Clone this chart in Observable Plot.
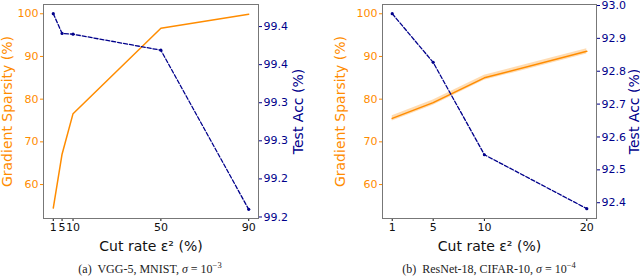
<!DOCTYPE html>
<html><head><meta charset="utf-8">
<script src="https://cdn.jsdelivr.net/npm/d3@7"></script>
<script src="https://cdn.jsdelivr.net/npm/@observablehq/plot@0.6"></script>
<style>
body{margin:0;background:#fff;}
#wrap{position:relative;width:640px;height:280px;overflow:hidden;background:#fff}
.layer{position:absolute;top:0;}
.cap{position:absolute;top:262px;font-family:"Liberation Serif","DejaVu Serif",serif;font-size:12px;color:#222;white-space:nowrap;transform:translateX(-50%)}
.cap sup{font-size:8.5px;vertical-align:5px;line-height:0}
</style></head><body><div id="wrap"></div><script>
// Panel (a): VGG-5, MNIST
const cutRateA = [1, 5, 10, 50, 90];
const sparsityA = [54.5, 67.1, 76.6, 96.6, 99.9];
const accA = [99.442, 99.416, 99.415, 99.394, 99.185];
const accTicksA = [99.175, 99.225, 99.275, 99.325, 99.375, 99.425];
const accTickLabelsA = ["99.2", "99.2", "99.3", "99.3", "99.4", "99.4"];
const captionA = '(a)&nbsp; VGG-5, MNIST, <i>σ</i> = 10<sup>−3</sup>';

// Panel (b): ResNet-18, CIFAR-10
const cutRateB = [1, 5, 10, 20];
const sparsityB = [75.5, 79.2, 85.0, 91.2];
const sparsityBandB = [0.6, 0.6, 0.6, 0.6];
const accB = [92.975, 92.827, 92.546, 92.382];
const accTicksB = [92.4, 92.5, 92.6, 92.7, 92.8, 92.9, 93.0];
const accTickLabelsB = ["92.4", "92.5", "92.6", "92.7", "92.8", "92.9", "93.0"];
const captionB = '(b)&nbsp; ResNet-18, CIFAR-10, <i>σ</i> = 10<sup>−4</sup>';

const sparsityTicks = [60, 70, 80, 90, 100];
const sparsityDomain = [52.05, 102.17];

const ORANGE = "#ff8c00", NAVY = "#00008b";
const W = 320, H = 252, MT = 4, MB = 34;
const wrap = document.getElementById("wrap");

function panel(cfg) {
  const base = {
    width: W, height: H, marginLeft: cfg.mL, marginRight: cfg.mR, marginTop: MT, marginBottom: MB,
    style: {background: "transparent", overflow: "visible", fontFamily: "DejaVu Sans, sans-serif", fontSize: "11px"}
  };
  const spData = cfg.cut.map((c, i) => ({c, v: cfg.sp[i], lo: cfg.band ? cfg.sp[i] - cfg.band[i] : null, hi: cfg.band ? cfg.sp[i] + cfg.band[i] : null}));
  const accData = cfg.cut.map((c, i) => ({c, v: cfg.acc[i]}));
  const p1 = Plot.plot({
    ...base,
    x: {domain: cfg.xDomain},
    y: {domain: sparsityDomain},
    marks: [
      cfg.band ? Plot.areaY(spData, {x: "c", y1: "lo", y2: "hi", fill: ORANGE, fillOpacity: 0.3}) : null,
      Plot.lineY(spData, {x: "c", y: "v", stroke: ORANGE, strokeWidth: 1.5}),
      Plot.axisY({ticks: sparsityTicks, tickSize: 3, tickPadding: 2, color: ORANGE, label: null, fontSize: 11}),
      Plot.axisY({ticks: [], color: ORANGE, label: "Gradient Sparsity (%)", labelAnchor: "center", labelArrow: "none", labelOffset: cfg.lOffL, fontSize: 14}),
      Plot.axisX({ticks: cfg.cut, tickSize: 3, tickPadding: 2, tickFormat: d => String(d), color: "#111", label: null, fontSize: 11}),
      Plot.axisX({ticks: [], label: "Cut rate ε² (%)", labelAnchor: "center", labelArrow: "none", labelOffset: 32, fontSize: 14, color: "#111"}),
      Plot.frame({stroke: "#777"})
    ]
  });
  const p2 = Plot.plot({
    ...base,
    x: {domain: cfg.xDomain, axis: null},
    y: {domain: cfg.accDomain},
    marks: [
      Plot.lineY(accData, {x: "c", y: "v", stroke: NAVY, strokeWidth: 1.3, strokeDasharray: "4,2"}),
      Plot.dot(accData, {x: "c", y: "v", r: 1.6, fill: NAVY}),
      Plot.axisY({anchor: "right", ticks: cfg.accTicks, tickSize: 3, tickPadding: 2, color: NAVY,
        tickFormat: d => cfg.accLabels[cfg.accTicks.indexOf(d)], label: null, fontSize: 11}),
      Plot.axisY({anchor: "right", ticks: [], color: NAVY, label: "Test Acc (%)", labelAnchor: "center", labelArrow: "none", labelOffset: cfg.lOffR, fontSize: 14})
    ]
  });
  const holder = document.createElement("div");
  holder.className = "layer";
  holder.style.left = cfg.left + "px";
  holder.style.width = W + "px";
  holder.style.height = H + "px";
  p1.style.position = "absolute"; p1.style.left = "0"; p1.style.top = "0";
  p2.style.position = "absolute"; p2.style.left = "0"; p2.style.top = "0";
  holder.appendChild(p1); holder.appendChild(p2);
  wrap.appendChild(holder);
  const cap = document.createElement("div");
  cap.className = "cap";
  cap.style.left = cfg.capX + "px";
  cap.innerHTML = cfg.caption;
  wrap.appendChild(cap);
}

panel({left: 0, mL: 43, mR: 62, xDomain: [-3.45, 94.45], cut: cutRateA, sp: sparsityA, band: null,
  acc: accA, accDomain: [99.173, 99.454], accTicks: accTicksA, accLabels: accTickLabelsA,
  lOffL: 41, lOffR: 44, caption: captionA, capX: 150});
panel({left: 320, mL: 62, mR: 44, xDomain: [0.05, 20.95], cut: cutRateB, sp: sparsityB, band: sparsityBandB,
  acc: accB, accDomain: [92.352, 93.003], accTicks: accTicksB, accLabels: accTickLabelsB,
  lOffL: 47, lOffR: 42, caption: captionB, capX: 489});
</script></body></html>
